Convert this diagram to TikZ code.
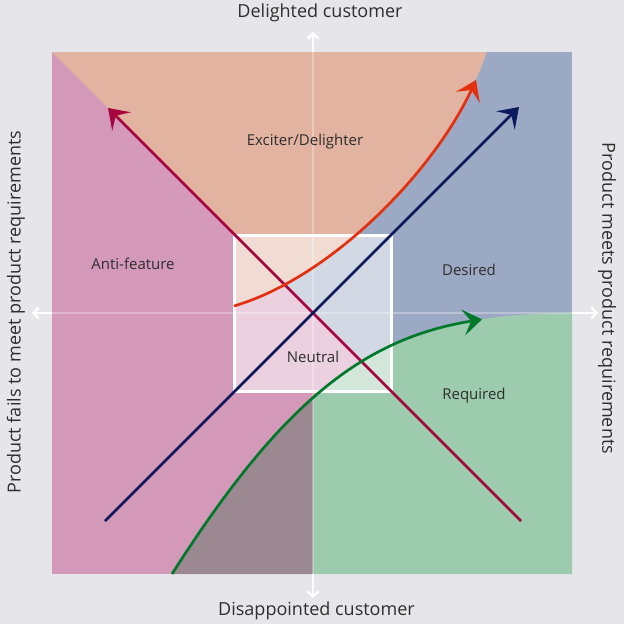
\documentclass[tikz,border=0pt]{standalone}
\usepackage{fontspec}
\setmainfont{Open Sans}
\usetikzlibrary{arrows.meta}
\definecolor{bgc}{HTML}{E6E6EA}
\definecolor{pinkr}{HTML}{D499B9}
\definecolor{salmonr}{HTML}{E2B3A1}
\definecolor{bluer}{HTML}{9CA9C4}
\definecolor{greenr}{HTML}{9CCBAD}
\definecolor{mauver}{HTML}{9B8891}
\definecolor{crimsonc}{HTML}{A6053F}
\definecolor{navyc}{HTML}{0C1A5C}
\definecolor{redc}{HTML}{E3300F}
\definecolor{greenc}{HTML}{007A2A}
\definecolor{textc}{HTML}{2E2E2E}
\tikzset{
  bigtip/.style={-{Stealth[length=19pt,width=26pt,inset=8pt]}},
  curveline/.style={line width=2.7pt, bigtip},
  axisin/.style={draw=white, draw opacity=0.3, line width=2.5pt},
  axisout/.style={draw=white, line width=2.5pt, -{Straight Barb[length=5pt,width=11pt]}},
  neutralbox/.style={fill=white, fill opacity=0.55, draw=white, draw opacity=1, line width=3pt},
  axislabel/.style={text=textc, font=\fontsize{18}{20}\selectfont, inner sep=0pt},
  regionlabel/.style={text=textc, font=\fontsize{15}{17}\selectfont, inner sep=0pt}
}
\begin{document}
\begin{tikzpicture}[x=1pt,y=-1pt]
\useasboundingbox (0,0) rectangle (624,624);
\fill[bgc] (0,0) rectangle (624,624);
% base pink
\fill[pinkr] (52,52) rectangle (572,574);
% salmon (exciter)
\fill[salmonr] (52,52) -- (487,52) .. controls (455,150) and (340,275) .. (234,306) -- (234,234) -- cycle;
% blue (desired)
\begin{scope}
  \clip (52,52) -- (572,52) -- (572,572) -- cycle;
  \fill[bluer] (487,52) -- (572,52) -- (572,313) .. controls (400,313) and (305,365) .. (172,574)
     -- (52,574) -- (52,306) -- (234,306) .. controls (340,275) and (455,150) .. (487,52) -- cycle;
\end{scope}
% green (required)
\begin{scope}
  \clip (313,52) rectangle (572,574);
  \fill[greenr] (172,574) .. controls (305,365) and (400,313) .. (572,313) -- (572,574) -- cycle;
\end{scope}
% mauve
\begin{scope}
  \clip (52,52) rectangle (313,574);
  \fill[mauver] (172,574) .. controls (305,365) and (400,313) .. (572,313) -- (572,574) -- cycle;
\end{scope}
% axes
\coordinate (top) at (313,32);
\coordinate (bot) at (313,598);
\coordinate (lft) at (32,313);
\coordinate (rgt) at (598,313);
\coordinate (sqt) at (313,52);
\coordinate (sqb) at (313,574);
\coordinate (sql) at (52,313);
\coordinate (sqr) at (572,313);
\draw[axisin] (sqt) -- (sqb);
\draw[axisin] (sql) -- (sqr);
\draw[axisout] (sqt) -- (top);
\draw[axisout] (sqb) -- (bot);
\draw[axisout] (sql) -- (lft);
\draw[axisout] (sqr) -- (rgt);
% neutral box
\draw[neutralbox] (234,235) rectangle (391,391);
% arrows
\coordinate (cs) at (521,521);
\coordinate (ce) at (108,108);
\coordinate (ns) at (105,521);
\coordinate (ne) at (519,107);
\draw[curveline, draw=crimsonc, crimsonc] (cs) -- (ce);
\draw[curveline, draw=navyc, navyc] (ns) -- (ne);
\draw[curveline, draw=redc, redc] (234,306) .. controls (329.4,278.1) and (432.1,174.1) .. (476,80);
\draw[curveline, draw=greenc, greenc] (172,574) .. controls (279.7,404.7) and (362.5,338.4) .. (482,319.4);
% labels
\node[axislabel] (lt) at (320,13) {Delighted customer};
\node[axislabel] (lb) at (316.5,611) {Disappointed customer};
\node[axislabel, rotate=90] (ll) at (16,312) {Product fails to meet product requirements};
\node[axislabel, rotate=-90] (lr) at (607,298.5) {Product meets product requirements};
\node[regionlabel] (ex) at (305,142) {Exciter/Delighter};
\node[regionlabel] (af) at (133,264) {Anti-feature};
\node[regionlabel] (de) at (469,270) {Desired};
\node[regionlabel] (ne2) at (313,357) {Neutral};
\node[regionlabel] (re) at (474,396) {Required};
\end{tikzpicture}
\end{document}
